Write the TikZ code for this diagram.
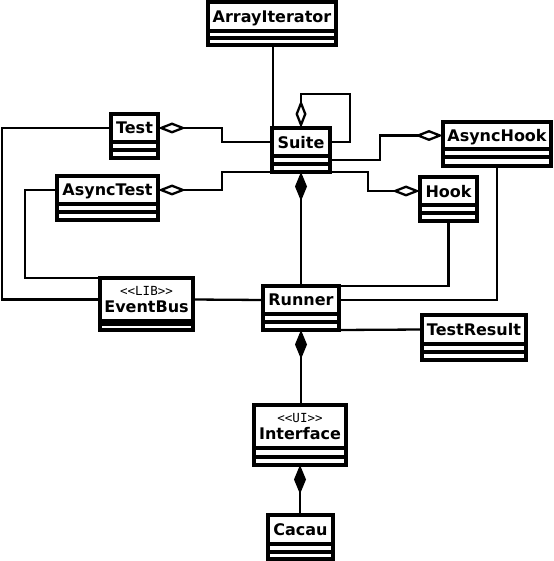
\documentclass[tikz,border=0pt]{standalone}
\usepackage{fontspec}
\setmainfont{DejaVu Sans}
\newfontfamily\stereofont{DejaVu Sans Mono}
\usetikzlibrary{arrows.meta}
\tikzset{
  classbox/.style={draw, line width=3.3pt, inner sep=0pt, outer sep=0pt},
  classname/.style={inner sep=0pt, outer sep=0pt, text depth=0pt, font=\fontsize{16}{18.5}\selectfont\bfseries, align=center},
  sepline/.style={line width=3.3pt},
  conn/.style={line width=2.3pt},
  agg/.style={conn, {Diamond[open, length=28pt, width=11pt]}-},
  comp/.style={conn, {Diamond[length=29pt, width=12pt]}-},
}
\newcommand\stereo[1]{{\stereofont\mdseries\fontsize{12.5}{13}\selectfont <{}<#1>{}>}}
% #1 id, #2 left, #3 top, #4 right, #5 bottom, #6 name bottom, #7 second line, #8 text
\newcommand\umlclass[8]{%
  \node[classbox, minimum width={(#4)-(#2)}, minimum height={(#5)-(#3)}] (#1) at ({(#2+#4)/2},{(#3+#5)/2}) {};
  \node[classname, minimum width={(#4)-(#2)}, minimum height={(#6)-(#3)}] (#1n) at ({(#2+#4)/2},{(#3+#6)/2}) {#8};
  \draw[sepline] (#2,#6) -- (#4,#6) (#2,#7) -- (#4,#7);
}
\begin{document}
\begin{tikzpicture}[x=1pt, y=-1pt]
\useasboundingbox (0,0) rectangle (553,561);
\umlclass{arrayiter}{208}{2}{336}{45}{31}{38}{ArrayIterator}
\umlclass{suite}{272}{128}{330}{172}{156}{164}{Suite}
\umlclass{test}{111}{114}{158}{158}{142}{150}{Test}
\umlclass{asynctest}{57}{176}{158}{220}{204}{212}{AsyncTest}
\umlclass{asynchook}{443}{122}{551}{166}{149}{157}{AsyncHook}
\umlclass{hook}{420}{177}{477}{221}{205}{213}{Hook}
\umlclass{eventbus}{100}{278}{193}{330}{321}{324}{\stereo{LIB}\\[-1pt]EventBus}
\umlclass{runner}{263}{286}{339}{330}{314}{322}{Runner}
\umlclass{testresult}{422}{315}{526}{360}{344}{352}{TestResult}
\umlclass{interface}{254}{405}{346}{465}{448}{457}{\stereo{UI}\\[-1pt]Interface}
\umlclass{cacau}{268}{515}{333}{559}{544}{552}{Cacau}

% associations
\draw[conn] (arrayiter.south -| 273,0) -- (suite.north -| 273,0);
\draw[agg] (suite.north) -- (301,94) -| (350,142) -- (suiten.east);
\draw[agg] (testn.east) -- (222,128) |- (suiten.west);
\draw[agg] (asynctestn.east) -- (222,190) |- (suite.south west);
\draw[agg] (asynchookn.west) -- (380,135.5) |- (suite.east |- 0,160);
\draw[agg] (hookn.west) -- (368,191) |- (suite.south east);
\draw[comp] (suite.south) -- (runner.north);
\draw[conn] (hook.south) |- (runner.north);
\draw[conn] (runnern.east) -| (asynchook.south);
\draw[conn] (eventbusn.east) -- (runnern.west);
\draw[conn] (testn.west) -- (2,128) |- (eventbusn.west);
\draw[conn] (asynctestn.west) -- (25,190) |- (eventbus.north west);
\draw[conn] (runner.south east) -- (testresultn.west);
\draw[comp] (runner.south) -- (interface.north -| runner.south);
\draw[comp] (interface.south) -- (cacau.north -| interface.south);
\end{tikzpicture}
\end{document}
